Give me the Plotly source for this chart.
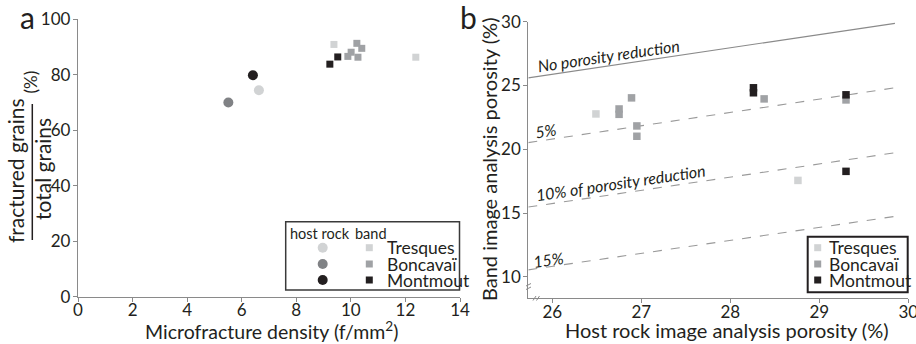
import plotly.graph_objects as go

W, H = 916, 344
FONT = "Lato"
TXT = "#231f20"
AX = "#8a8a8a"

# ---------------- data ----------------
sites = ["Tresques", "Boncavaï", "Montmout"]
colors = {"Tresques": "#d1d3d4", "Boncavaï": "#808285", "Montmout": "#231f20"}
sq_colors = {"Tresques": "#d1d3d4", "Boncavaï": "#a0a2a5", "Montmout": "#231f20"}

# panel a: host rock (circles)
host_density = {"Tresques": [6.63], "Boncavaï": [5.51], "Montmout": [6.41]}
host_fract = {"Tresques": [74.4], "Boncavaï": [70.0], "Montmout": [79.8]}
# panel a: band (squares)
band_density = {"Tresques": [9.38, 12.38],
                "Boncavaï": [10.22, 10.40, 10.01, 9.89, 10.26],
                "Montmout": [9.52, 9.23]}
band_fract = {"Tresques": [90.9, 86.3],
              "Boncavaï": [91.3, 89.5, 88.1, 86.6, 86.3],
              "Montmout": [86.4, 83.8]}

# panel b: host rock porosity vs band porosity
host_por = {"Tresques": [26.49, 28.76],
            "Boncavaï": [26.75, 26.75, 26.89, 26.95, 26.95, 28.38, 29.30],
            "Montmout": [28.26, 28.26, 29.30, 29.30]}
band_por = {"Tresques": [22.77, 17.56],
            "Boncavaï": [23.16, 22.74, 24.03, 21.83, 21.02, 23.95, 23.87],
            "Montmout": [24.82, 24.43, 24.27, 18.27]}

# reference lines (porosity reduction), endpoints
ref_x = [25.73, 29.85]
ref_lines = {
    "No porosity reduction": [25.6, 29.87],
    "5%": [20.52, 24.82],
    "10%": [15.47, 19.73],
    "15%": [10.55, 14.74],
}

a_xticks = [0, 2, 4, 6, 8, 10, 12, 14]
a_yticks = [0, 20, 40, 60, 80, 100]
b_xticks = [26, 27, 28, 29, 30]
b_yticks = [10, 15, 20, 25, 30]


def px(x):
    return x / W


def py(y):
    return (H - y) / H


fig = go.Figure()

# panel a traces
for s in sites:
    fig.add_trace(go.Scatter(x=host_density[s], y=host_fract[s], mode="markers",
                             marker=dict(symbol="circle", size=10, color=colors[s]),
                             xaxis="x", yaxis="y", showlegend=False, cliponaxis=False))
for s in sites:
    fig.add_trace(go.Scatter(x=band_density[s], y=band_fract[s], mode="markers",
                             marker=dict(symbol="square", size=7, color=sq_colors[s]),
                             xaxis="x", yaxis="y", showlegend=False, cliponaxis=False))

# panel b reference lines
for name, yy in ref_lines.items():
    solid = name.startswith("No")
    fig.add_trace(go.Scatter(x=ref_x, y=yy, mode="lines",
                             line=dict(color="#8a8a8a" if solid else "#9a9a9a", width=1.1,
                                       dash="solid" if solid else "9px,9px"),
                             xaxis="x2", yaxis="y2", showlegend=False, hoverinfo="skip"))
for s in sites:
    fig.add_trace(go.Scatter(x=host_por[s], y=band_por[s], mode="markers",
                             marker=dict(symbol="square", size=7.5, color=sq_colors[s]),
                             xaxis="x2", yaxis="y2", showlegend=False, cliponaxis=False))

# legend key markers on an overlay pixel axis
leg_rows = [247.7, 264.0, 280.0]
fig.add_trace(go.Scatter(x=[322.7] * 3, y=leg_rows, mode="markers",
                         marker=dict(symbol="circle", size=10, color=[colors[s] for s in sites]),
                         xaxis="x3", yaxis="y3", showlegend=False, hoverinfo="skip"))
fig.add_trace(go.Scatter(x=[369.3] * 3, y=leg_rows, mode="markers",
                         marker=dict(symbol="square", size=7, color=[sq_colors[s] for s in sites]),
                         xaxis="x3", yaxis="y3", showlegend=False, hoverinfo="skip"))
fig.add_trace(go.Scatter(x=[817.7] * 3, y=leg_rows, mode="markers",
                         marker=dict(symbol="square", size=7, color=[sq_colors[s] for s in sites]),
                         xaxis="x3", yaxis="y3", showlegend=False, hoverinfo="skip"))

axis_common = dict(showline=True, linecolor=AX, linewidth=1.3, ticks="outside",
                   ticklen=4, tickcolor=AX, tickwidth=1.2, showgrid=False, zeroline=False,
                   automargin=False, ticklabeloverflow="allow",
                   tickfont=dict(family=FONT, size=17, color=TXT))

fig.update_layout(
    width=W, height=H, margin=dict(l=0, r=0, t=0, b=0, autoexpand=False),
    paper_bgcolor="white", plot_bgcolor="rgba(0,0,0,0)",
    font=dict(family=FONT, color=TXT),
    xaxis=dict(domain=[px(78), px(460)], range=[0, 14], tickvals=a_xticks,
               anchor="y", ticklabelstandoff=-6, **axis_common),
    yaxis=dict(domain=[py(296.7), py(19.2)], range=[0, 100], tickvals=a_yticks,
               anchor="x", ticklabelstandoff=-1, **axis_common),
    xaxis2=dict(domain=[px(528.3), px(908.3)], range=[25.73, 30], tickvals=b_xticks,
                anchor="y2", ticklabelstandoff=-6, **axis_common),
    yaxis2=dict(domain=[py(298.3), py(21.7)], range=[8.32, 30], tickvals=b_yticks,
                anchor="x2", ticklabelstandoff=-1, **axis_common),
    xaxis3=dict(domain=[0, 1], range=[0, W], visible=False, anchor="y3", automargin=False),
    yaxis3=dict(domain=[0, 1], range=[H, 0], visible=False, anchor="x3", automargin=False),
)

shapes = []
# legend boxes
shapes.append(dict(type="rect", xref="paper", yref="paper", x0=px(285.7), x1=px(459.5),
                   y0=py(290), y1=py(221.7), line=dict(color="#3a3a3a", width=1.5),
                   fillcolor="white", layer="below"))
shapes.append(dict(type="rect", xref="paper", yref="paper", x0=px(807.7), x1=px(907.7),
                   y0=py(292.3), y1=py(236.7), line=dict(color="#231f20", width=2),
                   fillcolor="white", layer="below"))
# fraction bar in panel a y-title
shapes.append(dict(type="line", xref="paper", yref="paper", x0=px(32.3), x1=px(32.3),
                   y0=py(240), y1=py(104), line=dict(color=TXT, width=1.5)))
# axis break marks in panel b
for (x0, y0, x1, y1) in [(533, 300.5, 536, 296), (536.5, 300.5, 539.5, 296)]:
    shapes.append(dict(type="line", xref="paper", yref="paper", x0=px(x0), x1=px(x1),
                       y0=py(y0), y1=py(y1), line=dict(color=AX, width=1)))
for (x0, y0, x1, y1) in [(526, 286, 531, 283.5), (526, 289.5, 531, 287)]:
    shapes.append(dict(type="line", xref="paper", yref="paper", x0=px(x0), x1=px(x1),
                       y0=py(y0), y1=py(y1), line=dict(color=AX, width=1)))
fig.update_layout(shapes=shapes)

ann = []


def A(x, y, text, size=15, angle=0, xanchor="center", italic=False, **kw):
    ann.append(dict(x=px(x), y=py(y), xref="paper", yref="paper", text=text,
                    showarrow=False, textangle=angle, xanchor=xanchor, yanchor="middle",
                    font=dict(family=FONT, size=size, color=TXT,
                              style="italic" if italic else "normal"), **kw))


A(27, 17, "a", size=30)
A(468, 17, "b", size=30)
A(271, 330, "Microfracture density (f/mm<sup>2</sup>)", size=19.5)
A(15, 171, "fractured grains", size=21, angle=-90)
A(42, 169, "total grains", size=21, angle=-90)
A(29.5, 82, "(%)", size=17, angle=-90)
A(727, 329.5, "Host rock image analysis porosity (%)", size=20)
A(489, 160, "Band image analysis porosity (%)", size=20, angle=-90)

# reference line labels
A(608, 56, "No porosity reduction", size=16, angle=-8.4, italic=True)
A(545, 130, "5%", size=16, angle=-8.4, italic=True)
A(620, 182, "10% of porosity reduction", size=16, angle=-8.4, italic=True)
A(548, 259, "15%", size=16, angle=-8.4, italic=True)

# legend texts
A(288, 233.5, "host rock", size=14.5, xanchor="left")
A(353, 233.5, "band", size=14.5, xanchor="left")
for r, s in zip(leg_rows, sites):
    A(385, r, s, size=17.5, xanchor="left")
    A(826.5, r, s, size=17.5, xanchor="left")

fig.update_layout(annotations=ann)
fig.write_html("out.html", config={"displayModeBar": False},
               post_script="document.body.style.margin='0';document.body.style.overflow='hidden';")
